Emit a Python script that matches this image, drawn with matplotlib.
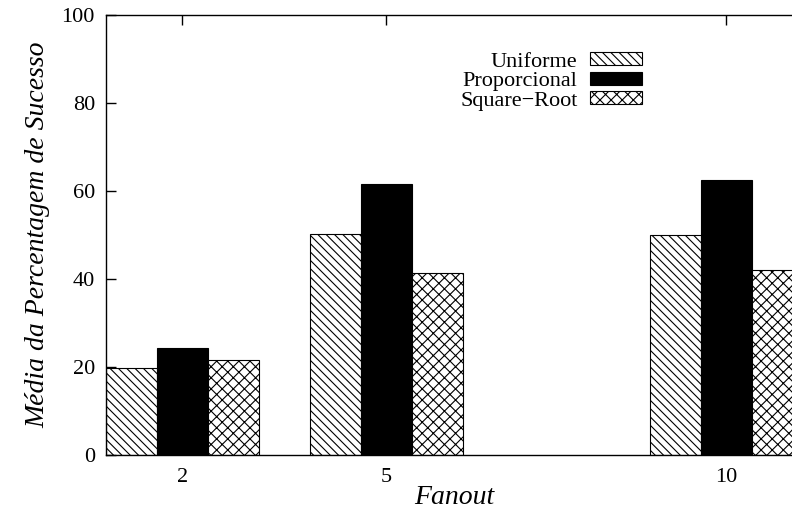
import matplotlib
matplotlib.use("Agg")
import matplotlib.pyplot as plt
import numpy as np

fanout = [2, 5, 10]
tick_labels = ["2", "5", "10"]
series_names = ["Uniforme", "Proporcional", "Square\u2212Root"]
uniforme = [19.7, 50.3, 50.1]
proporcional = [24.4, 61.6, 62.6]
square_root = [21.5, 41.4, 42.1]

plt.rcParams['font.family'] = ['Liberation Serif', 'DejaVu Serif']
plt.rcParams['hatch.linewidth'] = 0.8
plt.rcParams['font.size'] = 16

fig = plt.figure(figsize=(7.92, 5.11), dpi=100)
ax = fig.add_axes([106/792, 56/511, (802.5-106)/792, 440/511])

w = 0.75
x = np.array(fanout, dtype=float)
ax.bar(x - w, uniforme, width=w, facecolor='white', edgecolor='black',
       hatch='\\\\\\\\', linewidth=0.8, label=series_names[0])
ax.bar(x, proporcional, width=w, facecolor='black', edgecolor='black',
       linewidth=0.8, label=series_names[1])
ax.bar(x + w, square_root, width=w, facecolor='white', edgecolor='black',
       hatch='xxx', linewidth=0.8, label=series_names[2])

ax.set_xlim(fanout[0] - 1.5 * w, fanout[-1] + 1.5 * w)
ax.set_ylim(0, 100)
ax.set_xticks(fanout)
ax.set_xticklabels(tick_labels)
ax.set_yticks(np.arange(0, 101, 20))
ax.tick_params(direction='in', length=7, width=1, top=True, right=True,
               labelsize=16)
ax.tick_params(axis='y', pad=8)
ax.tick_params(axis='x', pad=9)
for s in ax.spines.values():
    s.set_linewidth(1.0)

ax.set_xlabel('Fanout', style='italic', fontsize=20, labelpad=-1)
ax.set_ylabel('Média da Percentagem de Sucesso', style='italic', fontsize=20,
              labelpad=8)

leg = ax.legend(loc='upper left', bbox_to_anchor=(354/696.5, 1 - 37/440),
                frameon=False, markerfirst=False, handlelength=2.35,
                handleheight=0.55, handletextpad=0.55, labelspacing=0.0,
                borderpad=0, borderaxespad=0, fontsize=16)

fig.savefig('out.png', dpi=100)
